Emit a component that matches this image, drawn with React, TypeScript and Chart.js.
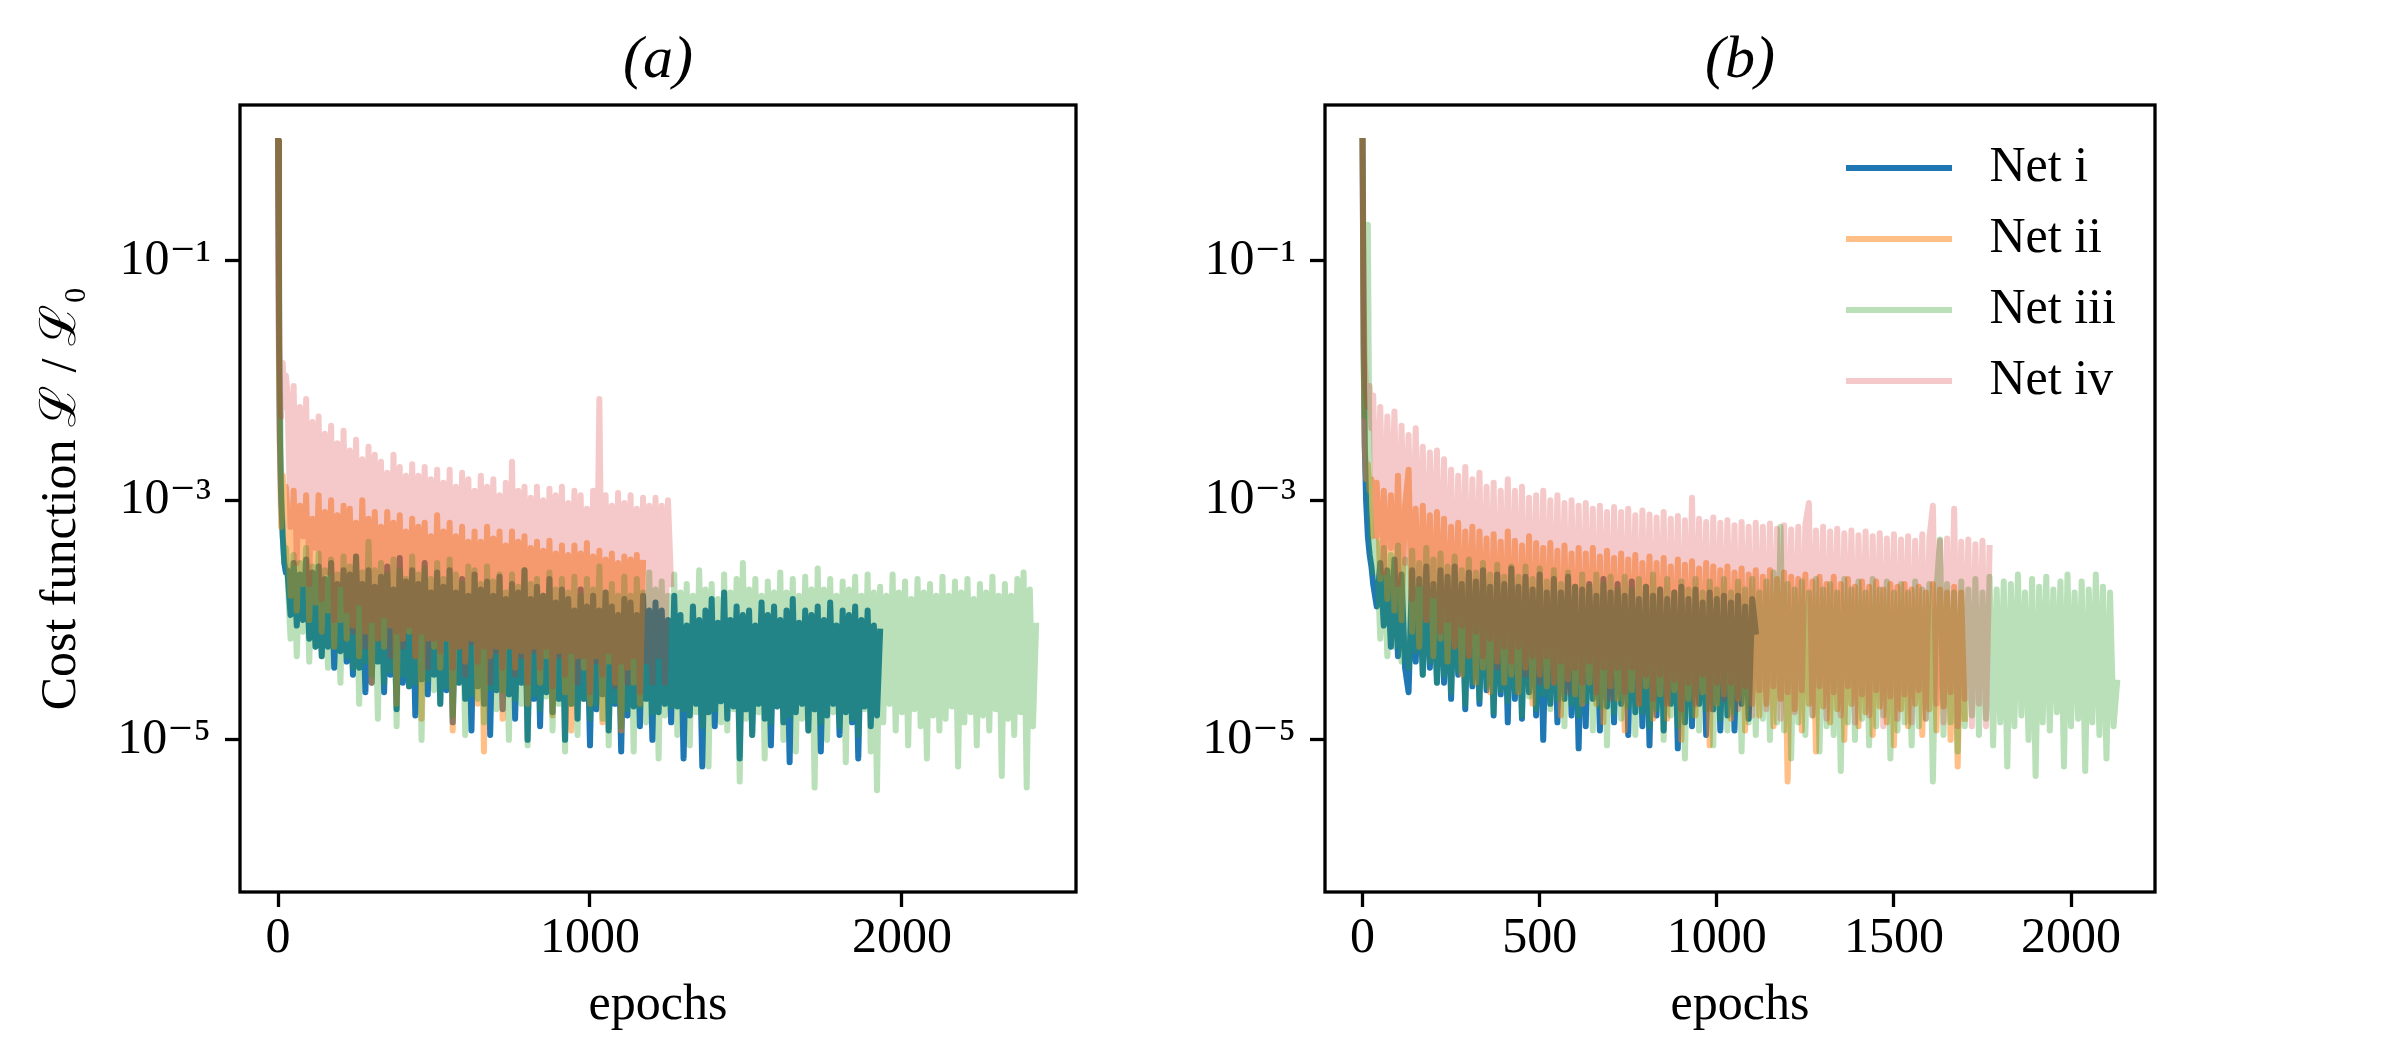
import React, { useEffect, useRef } from 'react';
import { Chart, registerables } from 'chart.js';

Chart.register(...registerables);

const SERIF = "'Liberation Serif', 'DejaVu Serif', serif";
const H = 1050;
const PLOT_BOTTOM = 892;

const NETS = ['Net i', 'Net ii', 'Net iii', 'Net iv'];
const NET_COLORS = [
  'rgba(31, 119, 180, 1)',
  'rgba(255, 127, 14, 0.5)',
  'rgba(44, 160, 44, 0.33)',
  'rgba(214, 39, 40, 0.25)',
];

const Y_MIN = 5.37e-7;
const Y_MAX = 1.995;
const Y_TICKS = [1e-1, 1e-3, 1e-5];
const Y_TICK_LABELS = ['10\u207B\u00B9', '10\u207B\u00B3', '10\u207B\u2075'];
const X_TICKS_A = [0, 1000, 2000];
const X_TICKS_B = [0, 500, 1000, 1500, 2000];

// epochs at which the losses below were read (both panels)
const EPOCHS = [
  0, 3, 6, 10, 15, 20, 25,
  30, 40, 50, 60, 70, 80, 90, 100, 110, 120,
  130, 140, 150, 160, 170, 180, 190, 200, 210, 220,
  230, 240, 250, 260, 270, 280, 290, 300, 310, 320,
  330, 340, 350, 360, 370, 380, 390, 400, 410, 420,
  430, 440, 450, 460, 470, 480, 490, 500, 510, 520,
  530, 540, 550, 560, 570, 580, 590, 600, 610, 620,
  630, 640, 650, 660, 670, 680, 690, 700, 710, 720,
  730, 740, 750, 760, 770, 780, 790, 800, 810, 820,
  830, 840, 850, 860, 870, 880, 890, 900, 910, 920,
  930, 940, 950, 960, 970, 980, 990, 1000, 1010, 1020,
  1030, 1040, 1050, 1060, 1070, 1080, 1090, 1100, 1110, 1120,
  1130, 1140, 1150, 1160, 1170, 1180, 1190, 1200, 1210, 1220,
  1230, 1240, 1250, 1260, 1270, 1280, 1290, 1300, 1310, 1320,
  1330, 1340, 1350, 1360, 1370, 1380, 1390, 1400, 1410, 1420,
  1430, 1440, 1450, 1460, 1470, 1480, 1490, 1500, 1510, 1520,
  1530, 1540, 1550, 1560, 1570, 1580, 1590, 1600, 1610, 1620,
  1630, 1640, 1650, 1660, 1670, 1680, 1690, 1700, 1710, 1720,
  1730, 1740, 1750, 1760, 1770, 1780, 1790, 1800, 1810, 1820,
  1830, 1840, 1850, 1860, 1870, 1880, 1890, 1900, 1910, 1920,
  1930, 1940, 1950, 1960, 1970, 1980, 1990, 2000, 2010, 2020,
  2030, 2040, 2050, 2060, 2070, 2080, 2090, 2100, 2110, 2120,
  2130, 2140, 2150, 2160, 2170, 2180, 2190, 2200, 2210, 2220,
  2230, 2240, 2250, 2260, 2270, 2280, 2290, 2300, 2310, 2320,
  2330, 2340, 2350, 2360, 2370, 2380, 2390, 2400, 2410, 2420,
  2430,
];

// ---- panel (a) ----
const LOSS_A_I = [
  1, 2e-2, 3e-3, 1e-3, 5e-4, 3e-4, 2.5e-4,
  2.6e-4, 1.1e-4, 3e-4, 9e-5, 2.4e-4, 1e-4, 3.2e-4, 7e-5, 2.5e-4, 6e-5,
  2.8e-4, 5e-5, 2.2e-4, 6e-5, 3e-4, 4e-5, 2e-4, 5.5e-5, 2.6e-4, 4.5e-5,
  2.4e-4, 3.5e-5, 3.4e-4, 4e-5, 2e-4, 2.5e-5, 2.6e-4, 3e-5, 1.9e-4, 4.5e-5,
  2.3e-4, 2.5e-5, 2.8e-4, 3.5e-5, 1.8e-4, 1.8e-5, 3.3e-4, 3e-5, 2.1e-4, 2.8e-5,
  2.6e-4, 1.6e-5, 2e-4, 3.2e-5, 3e-4, 2.4e-5, 1.7e-4, 3.5e-5, 2.5e-4, 2e-5,
  1.9e-4, 2.6e-5, 2.6e-4, 1.4e-5, 1.7e-4, 3e-5, 2.2e-4, 2.2e-5, 1.6e-4, 1.2e-5,
  2.4e-4, 2.8e-5, 1.8e-4, 2e-5, 2.1e-4, 1.1e-5, 1.6e-4, 2.6e-5, 2.3e-4, 1.8e-5,
  1.5e-4, 2.4e-5, 2e-4, 1.5e-5, 1.7e-4, 3e-5, 2.6e-4, 1e-5, 1.5e-4, 2.2e-5,
  1.9e-4, 1.3e-5, 1.6e-4, 2.5e-5, 2.2e-4, 1.7e-5, 1.4e-4, 2.2e-5, 1.8e-4, 1e-5,
  1.5e-4, 2e-5, 1.2e-4, 1.5e-5, 1.8e-4, 2.2e-5, 1.3e-4, 9e-6, 1.6e-4, 1.8e-5,
  1.2e-4, 2.4e-5, 1.7e-4, 1.2e-5, 1.3e-4, 2e-5, 1.1e-4, 8e-6, 1.5e-4, 1.6e-5,
  1.4e-4, 1.9e-5, 1.1e-4, 1.3e-5, 1.6e-4, 2.2e-5, 1.2e-4, 1e-5, 1.4e-4, 1.7e-5,
  1.2e-4, 2e-5, 1e-4, 1.4e-5, 1.6e-4, 1.9e-5, 1.1e-4, 7e-6, 9e-5, 1.6e-5,
  1.3e-4, 2e-5, 1e-4, 6e-6, 1.2e-4, 1.7e-5, 1.5e-4, 1.3e-5, 9.5e-5, 2.1e-5,
  1.7e-4, 1.5e-5, 1e-4, 1.9e-5, 1.3e-4, 7e-6, 1.1e-4, 1.8e-5, 1.2e-4, 1.1e-5,
  9e-5, 2e-5, 1.4e-4, 1.5e-5, 1.1e-4, 9e-6, 1.3e-4, 1.9e-5, 1e-4, 1.4e-5,
  1.2e-4, 6.5e-6, 1.5e-4, 1.7e-5, 9.5e-5, 2e-5, 1.2e-4, 1.2e-5, 1.1e-4, 1.8e-5,
  1.3e-4, 8e-6, 1e-4, 1.6e-5, 1.4e-4, 2e-5, 9e-5, 1.1e-5, 1.2e-4, 1.7e-5,
  1.1e-4, 1.4e-5, 1.3e-4, 7e-6, 1e-4, 1.9e-5, 1.2e-4, 1.3e-5, 9e-5, 1.6e-5,
  8e-5,
];

const LOSS_A_II = [
  1, 1e-2, 2.5e-3, 6e-4, 1.6e-3, 9e-4, 1.3e-3,
  8e-4, 1.6e-4, 1.2e-3, 1.2e-4, 9e-4, 2e-4, 1.1e-3, 1e-4, 7e-4, 1.4e-4,
  1.1e-3, 8e-5, 8e-4, 1.2e-4, 1e-3, 6e-5, 7.5e-4, 1e-4, 9e-4, 7e-5,
  8.5e-4, 9e-5, 6.5e-4, 5e-5, 1e-3, 8e-5, 7e-4, 3e-5, 8e-4, 7e-5,
  6e-4, 6e-5, 8e-4, 9e-5, 6.5e-4, 2e-5, 7.5e-4, 7e-5, 5.5e-4, 8e-5,
  7e-4, 5e-5, 6e-4, 1.5e-5, 6.5e-4, 7e-5, 5e-4, 6e-5, 7.5e-4, 4e-5,
  5.5e-4, 7e-5, 6.5e-4, 1.2e-5, 5e-4, 6e-5, 6e-4, 4.5e-5, 4.5e-4, 7e-5,
  5.5e-4, 2e-5, 4.5e-4, 8e-6, 6e-4, 5e-5, 4.8e-4, 6e-5, 5.5e-4, 1.5e-5,
  4.2e-4, 6e-5, 5.5e-4, 4e-5, 4.5e-4, 5.5e-5, 5e-4, 2e-5, 4e-4, 6e-5,
  4.5e-4, 3e-5, 3.8e-4, 5e-5, 4.6e-4, 1.6e-5, 3.6e-4, 5.5e-5, 4.2e-4, 2.5e-5,
  3.5e-4, 1.2e-5, 4.2e-4, 5e-5, 3.6e-4, 4e-5, 4.4e-4, 2e-5, 3.4e-4, 5e-5,
  3.8e-4, 1.4e-5, 3.2e-4, 4.5e-5, 3.6e-4, 3e-5, 3e-4, 1.2e-5, 3.4e-4, 4e-5,
  3.2e-4, 3e-5, 3.5e-4, 2e-5, 3e-4,
];

const LOSS_A_III = [
  1, 1.5e-1, 1e-2, 1.5e-3, 5e-4, 3e-4, 4e-4,
  2.5e-4, 7e-5, 3.5e-4, 5e-5, 3e-4, 8e-5, 4e-4, 4.5e-5, 2.8e-4, 6e-5,
  3.6e-4, 5e-5, 2.6e-4, 4e-5, 3.2e-4, 6e-5, 2.4e-4, 3e-5, 3.4e-4, 5e-5,
  2.8e-4, 4e-5, 3.4e-4, 2e-5, 2.5e-4, 4.5e-5, 4.5e-4, 3.5e-5, 2.6e-4, 1.5e-5,
  3e-4, 3e-5, 2.4e-4, 3.8e-5, 3.2e-4, 1.3e-5, 2.6e-4, 3.5e-5, 2.2e-4, 2.8e-5,
  3.4e-4, 3e-5, 2.4e-4, 1e-5, 2.7e-4, 3.2e-5, 2.2e-4, 2.6e-5, 3e-4, 2e-5,
  2.2e-4, 2.8e-5, 3.2e-4, 1.6e-5, 2.4e-4, 3e-5, 2e-4, 1.1e-5, 2.8e-4, 2.4e-5,
  2.6e-4, 2.2e-5, 2e-4, 1.4e-5, 2.8e-4, 2.7e-5, 2.1e-4, 1.8e-5, 2.4e-4, 2.6e-5,
  1.7e-4, 1e-5, 2.4e-4, 2.2e-5, 1.9e-4, 2e-5, 2.6e-4, 9e-6, 2e-4, 2.4e-5,
  2.2e-4, 1.8e-5, 1.6e-4, 2.3e-5, 2.5e-4, 1.2e-5, 1.8e-4, 2e-5, 2.2e-4, 8e-6,
  1.7e-4, 2e-5, 2.3e-4, 1.1e-5, 1.6e-4, 2.2e-5, 2.2e-4, 1.5e-5, 1.8e-4, 2e-5,
  2.8e-4, 1.5e-5, 1.7e-4, 9e-6, 2e-4, 2.1e-5, 1.6e-4, 1.3e-5, 2.3e-4, 1.8e-5,
  1.6e-4, 8e-6, 2.2e-4, 1.9e-5, 1.7e-4, 1.4e-5, 2.5e-4, 1.7e-5, 1.8e-4, 7e-6,
  2.1e-4, 1.6e-5, 1.6e-4, 1.9e-5, 2.4e-4, 1.1e-5, 1.7e-4, 1.8e-5, 2e-4, 9e-6,
  1.6e-4, 1.7e-5, 2.6e-4, 1.3e-5, 1.8e-4, 6e-6, 2e-4, 1.8e-5, 1.5e-4, 1.4e-5,
  2.4e-4, 1.2e-5, 1.7e-4, 1.8e-5, 2.2e-4, 4.5e-6, 3e-4, 1.5e-5, 1.8e-4, 1.1e-5,
  2.2e-4, 1.7e-5, 1.6e-4, 7e-6, 2.1e-4, 1.4e-5, 1.7e-4, 1.9e-5, 2.5e-4, 1e-5,
  1.7e-4, 1.6e-5, 2.2e-4, 8e-6, 1.6e-4, 1.5e-5, 2.3e-4, 1.2e-5, 1.8e-4, 4e-6,
  2.7e-4, 1.4e-5, 1.8e-4, 1e-5, 2.2e-4, 1.7e-5, 1.6e-4, 1.3e-5, 2.1e-4, 6.5e-6,
  1.8e-4, 1.5e-5, 2.3e-4, 1.1e-5, 1.6e-4, 1.8e-5, 2.4e-4, 8e-6, 1.7e-4, 3.8e-6,
  1.9e-4, 1.4e-5, 1.6e-4, 2e-5, 2.4e-4, 1.2e-5, 1.7e-4, 1.7e-5, 2.1e-4, 9e-6,
  1.5e-4, 1.8e-5, 2.2e-4, 1.3e-5, 1.7e-4, 7e-6, 2e-4, 1.6e-5, 1.6e-4, 1.2e-5,
  2.3e-4, 1.5e-5, 1.6e-4, 1.9e-5, 2.1e-4, 6e-6, 1.7e-4, 1.4e-5, 2.2e-4, 1.7e-5,
  1.5e-4, 9e-6, 2e-4, 1.6e-5, 1.7e-4, 1.2e-5, 2.3e-4, 1.8e-5, 1.6e-4, 5e-6,
  2e-4, 1.5e-5, 1.6e-4, 1.1e-5, 2.2e-4, 1.7e-5, 2.5e-4, 4e-6, 1.8e-4, 1.3e-5,
  9e-5,
];

const LOSS_A_IV = [
  1, 5e-2, 1.2e-2, 5e-3, 1.4e-2, 6e-3, 1.1e-2,
  8e-3, 6e-4, 9e-3, 3e-4, 6e-3, 5e-4, 7e-3, 2e-4, 4.5e-3, 4e-4,
  5e-3, 1.5e-4, 3.6e-3, 2.5e-4, 4.2e-3, 1e-4, 3e-3, 2e-4, 3.8e-3, 1.2e-4,
  2.6e-3, 8e-5, 3.2e-3, 1.4e-4, 2.2e-3, 6e-5, 2.8e-3, 1e-4, 2.4e-3, 7e-5,
  2.1e-3, 1.1e-4, 1.7e-3, 5e-5, 2.4e-3, 8e-5, 1.9e-3, 6e-5, 1.6e-3, 9e-5,
  2e-3, 5e-5, 1.6e-3, 8e-5, 1.9e-3, 4e-5, 1.5e-3, 7e-5, 1.8e-3, 5.5e-5,
  1.4e-3, 7e-5, 1.8e-3, 4e-5, 1.3e-3, 6e-5, 1.7e-3, 3.5e-5, 1.5e-3, 6.5e-5,
  1.2e-3, 4.5e-5, 1.6e-3, 6e-5, 1.3e-3, 3e-5, 1.5e-3, 5.5e-5, 1.1e-3, 4e-5,
  1.4e-3, 6e-5, 2.1e-3, 3.5e-5, 1.2e-3, 5e-5, 1.3e-3, 3e-5, 1.05e-3, 5.5e-5,
  1.3e-3, 4e-5, 1e-3, 6e-5, 1.25e-3, 2.8e-5, 1.1e-3, 5e-5, 1.3e-3, 3.5e-5,
  9.5e-4, 5.5e-5, 1.2e-3, 3e-5, 1.1e-3, 5e-5, 8.5e-4, 2.5e-5, 1.2e-3, 4.5e-5,
  7e-3, 3.5e-5, 1.1e-3, 5.5e-5, 9e-4, 2.8e-5, 1.15e-3, 4.5e-5, 9.5e-4, 3e-5,
  1.1e-3, 5e-5, 8.5e-4, 2.5e-5, 1.05e-3, 4.5e-5, 9e-4, 3e-5, 1.05e-3, 5e-5,
  9e-4, 3e-5, 1e-3, 2e-4,
];

// ---- panel (b) ----
const LOSS_B_I = [
  1, 2e-2, 3e-3, 1e-3, 5e-4, 3.5e-4, 2.8e-4,
  2e-4, 1.3e-4, 3e-4, 9e-5, 2.6e-4, 6e-5, 3.2e-4, 5e-5, 2.4e-4, 4e-5,
  2.5e-5, 2.6e-4, 4.5e-5, 2.2e-4, 3.5e-5, 2.8e-4, 4e-5, 2e-4, 3e-5, 2.6e-4,
  3e-5, 2.3e-4, 2.2e-5, 2.8e-4, 3.5e-5, 2e-4, 1.8e-5, 2.5e-4, 2.8e-5, 2.1e-4,
  2e-5, 2.6e-4, 2.6e-5, 1.9e-4, 1.6e-5, 2.4e-4, 2.4e-5, 2e-4, 1.4e-5, 2.7e-4,
  2.2e-5, 1.9e-4, 1.5e-5, 2.3e-4, 2.5e-5, 1.8e-4, 1.6e-5, 2.4e-4, 1e-5, 1.7e-4,
  2e-5, 2.2e-4, 1.4e-5, 1.7e-4, 2.2e-5, 2.3e-4, 1.6e-5, 1.9e-4, 8.5e-6, 1.8e-4,
  1.3e-5, 2e-4, 2.2e-5, 1.6e-4, 1.2e-5, 2.2e-4, 1.9e-5, 1.7e-4, 1.4e-5, 2e-4,
  2e-5, 1.6e-4, 1.1e-5, 2.1e-4, 1.7e-5, 1.5e-4, 1.3e-5, 1.9e-4, 9e-6, 1.6e-4,
  1.6e-5, 1.8e-4, 1.2e-5, 1.5e-4, 2e-5, 1.7e-4, 8.5e-6, 1.9e-4, 1.4e-5, 1.5e-4,
  1.3e-5, 1.8e-4, 2e-5, 1.4e-4, 1.1e-5, 1.7e-4, 1.8e-5, 1.5e-4, 1.2e-5, 1.6e-4,
  1.6e-5, 1.4e-4, 1.2e-5, 1.6e-4, 2e-5, 1.3e-4, 1.5e-5, 1.5e-4, 8e-5,
];

const LOSS_B_II = [
  1, 1.5e-2, 3e-3, 1.5e-3, 2e-3, 1.2e-3, 1.5e-3,
  5e-4, 1.4e-3, 2.2e-4, 1.2e-3, 1.5e-4, 1.1e-3, 1.2e-4, 1.6e-3, 1e-4, 9e-4,
  1.8e-3, 8e-5, 8.5e-4, 6e-5, 9e-4, 1e-4, 7.5e-4, 5e-5, 8e-4, 7e-5,
  7e-4, 4.5e-5, 6e-4, 6e-5, 6.5e-4, 3.5e-5, 5.5e-4, 5e-5, 6e-4, 3e-5,
  5.5e-4, 4e-5, 4.8e-4, 2.5e-5, 5.2e-4, 4.5e-5, 4.5e-4, 3e-5, 5.5e-4, 3.5e-5,
  4.6e-4, 2.5e-5, 4.2e-4, 4e-5, 5e-4, 2e-5, 4.4e-4, 3.5e-5, 4e-4, 2.8e-5,
  4.4e-4, 3e-5, 3.8e-4, 1.6e-5, 4.2e-4, 3.2e-5, 3.6e-4, 2.4e-5, 4e-4, 2e-5,
  3.6e-4, 3e-5, 4e-4, 2e-5, 3.4e-4, 1.4e-5, 3.8e-4, 2.8e-5, 3.3e-4, 2.2e-5,
  3.6e-4, 1.2e-5, 3.2e-4, 2.6e-5, 3.5e-4, 2e-5, 3e-4, 2.8e-5, 3.4e-4, 1.5e-5,
  3e-4, 2.4e-5, 3.3e-4, 1.5e-5, 2.8e-4, 2.6e-5, 3.2e-4, 1e-5, 2.9e-4, 2.2e-5,
  3.1e-4, 1.6e-5, 2.7e-4, 2.5e-5, 3e-4, 9e-6, 2.8e-4, 2e-5, 2.6e-4, 2.4e-5,
  2.8e-4, 1.5e-5, 2.5e-4, 2.2e-5, 2.7e-4, 1.2e-5, 2.4e-4, 2e-5, 2.6e-4, 1.6e-5,
  2.3e-4, 2e-5, 2.6e-4, 1.3e-5, 2.2e-4, 2.2e-5, 2.5e-4, 4.5e-6, 2.3e-4, 1.8e-5,
  2.2e-4, 1.2e-5, 2.4e-4, 2e-5, 2.1e-4, 8e-6, 2.3e-4, 1.9e-5, 2e-4, 1.4e-5,
  2.3e-4, 1.8e-5, 2e-4, 1e-5, 2.2e-4, 2e-5, 1.9e-4, 1.3e-5, 2.1e-4, 1.7e-5,
  1.9e-4, 1.1e-5, 2.1e-4, 1.9e-5, 1.8e-4, 1.4e-5, 2e-4, 9e-6, 1.9e-4, 1.8e-5,
  2e-4, 1.3e-5, 1.8e-4, 2e-5, 1.9e-4, 1.1e-5, 1.7e-4, 1.8e-5, 2e-4, 1.2e-5,
  1.8e-4, 1.9e-5, 1.7e-4, 1e-5, 1.9e-4, 6e-6, 1.7e-4, 1.5e-5,
];

const LOSS_B_III = [
  1, 8e-2, 5e-3, 3e-2, 2e-1, 1e-3, 5e-4,
  2.5e-4, 4.5e-4, 7e-5, 4e-4, 5e-5, 3.5e-4, 6e-5, 4.2e-4, 4.5e-5, 3.2e-4,
  4e-5, 3.8e-4, 5.5e-5, 3e-4, 3.5e-5, 4e-4, 4.5e-5, 3.2e-4, 3e-5, 3.6e-4,
  3.5e-5, 2.8e-4, 2.5e-5, 3.4e-4, 3.8e-5, 2.6e-4, 2e-5, 3.2e-4, 3e-5, 2.5e-4,
  2.2e-5, 3e-4, 2.8e-5, 2.4e-4, 1.7e-5, 2.9e-4, 2.6e-5, 2.3e-4, 2.1e-5, 2.8e-4,
  2.5e-5, 2.3e-4, 1.6e-5, 2.8e-4, 2.3e-5, 2.2e-4, 1.8e-5, 2.7e-4, 2.4e-5, 2.1e-4,
  1.8e-5, 2.6e-4, 2.2e-5, 2e-4, 1.3e-5, 2.5e-4, 2e-5, 1.9e-4, 1.6e-5, 2.4e-4,
  2.1e-5, 1.9e-4, 1.2e-5, 2.4e-4, 1.9e-5, 2e-4, 9e-6, 2.3e-4, 1.7e-5, 1.8e-4,
  1.5e-5, 2.3e-4, 1.9e-5, 1.8e-4, 1.1e-5, 2.2e-4, 1.7e-5, 1.9e-4, 1.3e-5, 2.4e-4,
  1.8e-5, 1.8e-4, 1e-5, 2.2e-4, 1.6e-5, 1.7e-4, 1.3e-5, 2.1e-4, 7e-6, 1.8e-4,
  1.6e-5, 2.2e-4, 1.2e-5, 1.7e-4, 1.8e-5, 2.1e-4, 9e-6, 1.8e-4, 1.5e-5, 2.2e-4,
  1.2e-5, 1.7e-4, 1.7e-5, 2.1e-4, 8e-6, 1.8e-4, 1.4e-5, 2.2e-4, 1.1e-5, 1.7e-4,
  1.5e-5, 2.1e-4, 1e-5, 2.5e-4, 1.4e-5, 6e-4, 1.2e-5, 2e-4, 7e-6, 1.8e-4,
  1.4e-5, 2.1e-4, 1.1e-5, 1.7e-4, 1.6e-5, 2.2e-4, 8e-6, 1.8e-4, 1.3e-5, 2e-4,
  1.1e-5, 1.7e-4, 5.5e-6, 2.2e-4, 1.4e-5, 1.8e-4, 1e-5, 2.1e-4, 1.5e-5, 1.7e-4,
  9e-6, 2.2e-4, 1.3e-5, 1.8e-4, 1.6e-5, 2.1e-4, 7e-6, 1.7e-4, 1.2e-5, 2e-4,
  1.4e-5, 1.7e-4, 9e-6, 2.1e-4, 1.3e-5, 1.8e-4, 1.5e-5, 2e-4, 4.5e-6, 1.8e-4,
  4.7e-4, 1.1e-5, 2e-4, 1.4e-5, 1.7e-4, 8e-6, 2.1e-4, 1.3e-5, 1.8e-4, 1.6e-5,
  2.2e-4, 1.1e-5, 1.7e-4, 1.5e-5, 2.3e-4, 9e-6, 1.8e-4, 1.4e-5, 2.1e-4, 6e-6,
  2e-4, 1.3e-5, 2.4e-4, 1.6e-5, 1.7e-4, 1e-5, 2.2e-4, 5e-6, 1.9e-4, 1.4e-5,
  2.3e-4, 1.2e-5, 1.8e-4, 1.7e-5, 2.1e-4, 6e-6, 2.4e-4, 1.3e-5, 1.7e-4, 1.5e-5,
  2.1e-4, 5.5e-6, 1.8e-4, 1.4e-5, 2.4e-4, 1.1e-5, 1.9e-4, 7e-6, 1.7e-4, 1.3e-5,
  3e-5,
];

const LOSS_B_IV = [
  1, 5e-2, 1.5e-2, 8e-3, 6e-3, 9e-3, 4e-3,
  7.5e-3, 5e-4, 6e-3, 2.5e-4, 5e-3, 4e-4, 5.5e-3, 2e-4, 4.2e-3, 3e-4,
  3.5e-3, 1.5e-4, 4e-3, 2e-4, 2.8e-3, 1e-4, 2.5e-3, 1.6e-4, 2.6e-3, 8e-5,
  2.2e-3, 1e-4, 1.8e-3, 6e-5, 1.6e-3, 9e-5, 1.9e-3, 5e-5, 1.5e-3, 8e-5,
  1.7e-3, 5e-5, 1.3e-3, 7e-5, 1.4e-3, 4e-5, 1.2e-3, 6e-5, 1.5e-3, 4.5e-5,
  1.2e-3, 6e-5, 1.3e-3, 3.5e-5, 1.05e-3, 5e-5, 1.1e-3, 3e-5, 1.2e-3, 5e-5,
  1e-3, 3e-5, 1.1e-3, 4.5e-5, 9.5e-4, 2.5e-5, 1e-3, 4e-5, 9e-4, 3e-5,
  9.5e-4, 4.5e-5, 8.5e-4, 2.5e-5, 9e-4, 4e-5, 8e-4, 2.2e-5, 8.8e-4, 4e-5,
  8e-4, 2.5e-5, 8.5e-4, 4e-5, 7.5e-4, 2e-5, 8.2e-4, 3.5e-5, 7.6e-4, 2.2e-5,
  7.2e-4, 3.5e-5, 8e-4, 2e-5, 7e-4, 3.2e-5, 7.4e-4, 1.8e-5, 6.8e-4, 3e-5,
  1.05e-3, 2e-5, 7e-4, 3.5e-5, 6.6e-4, 1.8e-5, 7.2e-4, 3e-5, 6.5e-4, 2.2e-5,
  6.8e-4, 3e-5, 6.2e-4, 1.8e-5, 6.6e-4, 2.8e-5, 6e-4, 1.6e-5, 6.5e-4, 2.6e-5,
  6e-4, 1.8e-5, 6.4e-4, 2.8e-5, 5.8e-4, 1.5e-5, 6.2e-4, 2.5e-5, 5.7e-4, 1.7e-5,
  6e-4, 2.6e-5, 6.3e-4, 9.5e-4, 1.6e-5, 5.6e-4, 2.8e-5, 6e-4, 1.5e-5, 5.5e-4,
  2.5e-5, 5.8e-4, 1.6e-5, 5.3e-4, 2.8e-5, 5.6e-4, 1.4e-5, 5.1e-4, 2.4e-5, 5.5e-4,
  1.6e-5, 5e-4, 2.6e-5, 5.3e-4, 1.3e-5, 4.8e-4, 2.3e-5, 5.2e-4, 1.5e-5, 4.7e-4,
  2.4e-5, 5e-4, 1.4e-5, 4.6e-4, 2.6e-5, 5.2e-4, 1.5e-5, 4.8e-4, 9e-4, 2e-5,
  4.6e-4, 1.4e-5, 4.8e-4, 2.5e-5, 8.5e-4, 1.3e-5, 4.5e-4, 2.2e-5, 4.7e-4, 1.3e-5,
  4.3e-4, 2e-5, 4.6e-4, 1.3e-5, 4e-4,
];

const framePlugin = {
  id: 'frame',
  afterDatasetsDraw(chart: any) {
    const { ctx, chartArea: a } = chart;
    ctx.save();
    ctx.strokeStyle = '#000';
    ctx.lineWidth = 3.3;
    ctx.strokeRect(a.left, a.top, a.right - a.left, a.bottom - a.top);
    ctx.restore();
  },
};

// puts the chartArea legend in the upper right corner
const legendPlacer = {
  id: 'legendPlacer',
  afterLayout(chart: any, _args: any, opts: any) {
    const lg = chart.legend;
    if (!lg || opts.left == null) return;
    lg.left = opts.left;
    lg.top = opts.top;
    lg.right = opts.left + 500;
    lg.bottom = opts.top + 500;
    lg.width = 500;
    lg.height = 500;
  },
};

interface PanelProps {
  title: string;
  series: number[][];
  xTicks: number[];
  xMin: number;
  xMax: number;
  left: number;
  width: number;
  plotLeft: number;
  plotRight: number;
  yTitle?: string;
  legendAt?: { left: number; top: number };
}

const Panel: React.FC<PanelProps> = (p) => {
  const canvasRef = useRef<HTMLCanvasElement>(null);

  useEffect(() => {
    if (!canvasRef.current) return;
    const font = { family: SERIF, size: 50, lineHeight: 1.2 };

    const chart = new Chart(canvasRef.current, {
      type: 'line',
      data: {
        datasets: p.series.map((vals, k) => ({
          label: NETS[k],
          data: vals.map((v, i) => ({ x: EPOCHS[i], y: v })),
          borderColor: NET_COLORS[k],
          backgroundColor: NET_COLORS[k],
          borderWidth: 6,
          borderJoinStyle: 'round' as const,
          borderCapStyle: 'square' as const,
          pointRadius: 0,
          tension: 0,
          order: 3 - k,
        })),
      },
      options: {
        animation: false,
        responsive: false,
        devicePixelRatio: 1,
        events: [],
        layout: { autoPadding: false, padding: { left: 0, top: 0, bottom: 0, right: p.width - p.plotRight } },
        plugins: {
          title: {
            display: true,
            text: p.title,
            fullSize: false,
            color: '#000',
            font: { family: SERIF, size: 60, style: 'italic', weight: 'normal', lineHeight: 1.2 },
            padding: { top: 25, bottom: 8 },
          },
          legend: p.legendAt
            ? {
                display: true,
                position: 'chartArea',
                align: 'start',
                labels: {
                  boxWidth: 106,
                  boxHeight: 6,
                  padding: 21,
                  color: '#000',
                  font: { family: SERIF, size: 50 },
                  sort: (a: any, b: any) => a.datasetIndex - b.datasetIndex,
                  generateLabels: (c: any) =>
                    Chart.defaults.plugins.legend.labels.generateLabels(c).map((l: any) => ({
                      ...l,
                      text: ' ' + l.text,
                      lineWidth: 0,
                      fillStyle: NET_COLORS[l.datasetIndex],
                      strokeStyle: 'rgba(0,0,0,0)',
                    })),
                },
              }
            : { display: false },
          tooltip: { enabled: false },
          legendPlacer: p.legendAt ? p.legendAt : {},
        } as any,
        scales: {
          x: {
            type: 'linear',
            min: p.xMin,
            max: p.xMax,
            afterBuildTicks: (s: any) => {
              s.ticks = p.xTicks.map((v) => ({ value: v }));
            },
            afterFit: (s: any) => {
              s.height = H - PLOT_BOTTOM;
            },
            ticks: {
              font,
              color: '#000',
              padding: 2,
              maxRotation: 0,
              autoSkip: false,
              callback: (v: any) => String(v),
            },
            grid: { display: true, drawOnChartArea: false, drawTicks: true, tickLength: 15, tickWidth: 3.3, tickColor: '#000' },
            border: { display: false },
            title: { display: true, text: 'epochs', color: '#000', font, padding: { top: 0, bottom: 14 } },
          },
          y: {
            type: 'logarithmic',
            min: Y_MIN,
            max: Y_MAX,
            afterBuildTicks: (s: any) => {
              s.ticks = Y_TICKS.map((v) => ({ value: v }));
            },
            afterFit: (s: any) => {
              s.width = p.plotLeft;
            },
            ticks: {
              font,
              color: '#000',
              padding: 14,
              autoSkip: false,
              callback: (_v: any, i: number) => Y_TICK_LABELS[i],
            },
            grid: { display: true, drawOnChartArea: false, drawTicks: true, tickLength: 15, tickWidth: 3.3, tickColor: '#000' },
            border: { display: false },
            title: p.yTitle
              ? { display: true, text: p.yTitle, color: '#000', font, padding: { top: 32, bottom: 0 } }
              : { display: false },
          },
        } as any,
      },
      plugins: [framePlugin, legendPlacer],
    });

    return () => chart.destroy();
  }, []);

  return (
    <canvas
      ref={canvasRef}
      width={p.width}
      height={H}
      style={{ position: 'absolute', left: p.left, top: 0, width: p.width, height: H }}
    />
  );
};

export default function App() {
  return (
    <div style={{ position: 'absolute', left: 0, top: 0, width: 2400, height: H, background: '#fff' }}>
      <Panel
        title="(a)"
        series={[LOSS_A_I, LOSS_A_II, LOSS_A_III, LOSS_A_IV]}
        xTicks={X_TICKS_A}
        xMin={-122}
        xMax={2558}
        left={0}
        width={1150}
        plotLeft={240}
        plotRight={1076}
        yTitle={'Cost function \u2112 / \u2112\u2080'}
      />
      <Panel
        title="(b)"
        series={[LOSS_B_I, LOSS_B_II, LOSS_B_III, LOSS_B_IV]}
        xTicks={X_TICKS_B}
        xMin={-106}
        xMax={2237}
        left={1150}
        width={1250}
        plotLeft={175}
        plotRight={1005}
        legendAt={{ left: 675, top: 122 }}
      />
    </div>
  );
}
